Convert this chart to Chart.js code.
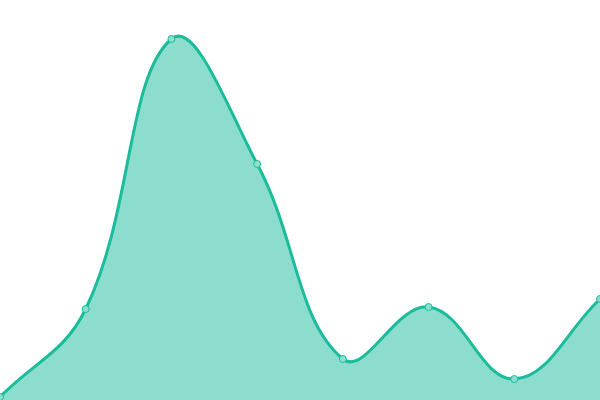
<!DOCTYPE html>
<html>
<head>
<meta charset="utf-8">
<script src="https://cdn.jsdelivr.net/npm/chart.js@4"></script>
<style>
  html, body { margin: 0; padding: 0; background: #fff; }
  #wrap { width: 600px; height: 400px; }
</style>
</head>
<body>
<div id="wrap"><canvas id="myChart"></canvas></div>
<script>
// data
const labels = ["1", "2", "3", "4", "5", "6", "7", "8"];
const values = [0.75, 22.75, 90.25, 59, 10.25, 23.25, 5.25, 25.25];

var ctx = document.getElementById('myChart').getContext('2d');

var chart = new Chart(ctx, {
    type: 'line',
    data: {
        labels: labels,
        datasets: [{
            data: values,
            borderColor: '#1abc9c',
            backgroundColor: 'rgba(26, 188, 156, 0.5)',
            borderWidth: 3,
            fill: true,
            tension: 0.4,
            pointRadius: 3.5,
            pointBorderWidth: 1,
            pointBackgroundColor: '#8ddece',
            pointBorderColor: '#1abc9c',
        }]
    },
    options: {
        responsive: true,
        maintainAspectRatio: false,
        animation: false,
        layout: { padding: 0, autoPadding: false },
        plugins: {
            legend: { display: false },
            tooltip: { enabled: false },
        },
        scales: {
            x: { display: false, offset: false },
            y: { display: false, min: 0, max: 100 },
        },
    },
});
</script>
</body>
</html>
